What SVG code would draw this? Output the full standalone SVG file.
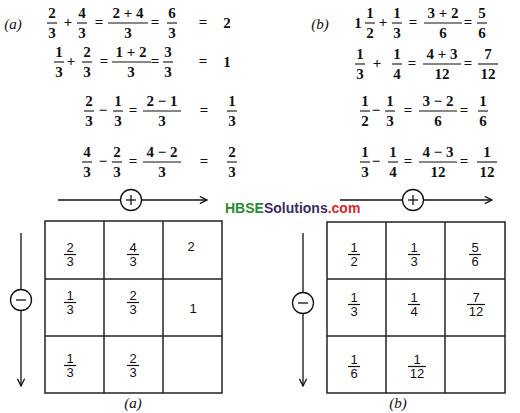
<svg xmlns="http://www.w3.org/2000/svg" width="520" height="413" viewBox="0 0 520 413">
<defs>
<marker id="ah" viewBox="0 0 10 10" refX="9" refY="5" markerWidth="9" markerHeight="9" markerUnits="userSpaceOnUse" orient="auto">
<path d="M1,1 L9,5 L1,9" fill="none" stroke="#111" stroke-width="1.4"/>
</marker>
<style>
.eq{font-size:15px;font-weight:bold;text-anchor:middle;fill:#111}
.lab{font-size:15px;font-style:italic;text-anchor:middle;fill:#111}
.cell{font-size:13px;text-anchor:middle;fill:#111}
.bar{stroke:#111;stroke-width:1.1}
.cbar{stroke:#111;stroke-width:1.2}
.grid{fill:none;stroke:#222;stroke-width:1.5}
.arr{stroke:#111;stroke-width:1.3;fill:none}
.circ{fill:#fff;stroke:#111;stroke-width:1.3}
.wm{font-size:14px;font-weight:bold}
</style>
</defs>
<rect width="520" height="413" fill="#fff"/>

<g font-family="'Liberation Serif', 'Times New Roman', serif">
<!-- Equations (a) -->
<g id="eq-a">
<text class="lab" x="13" y="29">(a)</text>
<g id="eq-a1">
<text class="eq" x="52" y="18">2</text><line class="bar" x1="47" y1="23" x2="57" y2="23"/><text class="eq" x="52" y="38">3</text>
<text class="eq" x="68" y="27">+</text>
<text class="eq" x="82" y="18">4</text><line class="bar" x1="77" y1="23" x2="87" y2="23"/><text class="eq" x="82" y="38">3</text>
<text class="eq" x="99" y="27">=</text>
<text class="eq" x="128" y="18">2 + 4</text><line class="bar" x1="108" y1="23" x2="148" y2="23"/><text class="eq" x="128" y="38">3</text>
<text class="eq" x="155" y="27">=</text>
<text class="eq" x="172" y="18">6</text><line class="bar" x1="167" y1="23" x2="177" y2="23"/><text class="eq" x="172" y="38">3</text>
<text class="eq" x="203" y="27">=</text>
<text class="eq" x="227" y="28">2</text>
</g>
<g id="eq-a2">
<text class="eq" x="59" y="57">1</text><line class="bar" x1="54" y1="62" x2="64" y2="62"/><text class="eq" x="59" y="77">3</text>
<text class="eq" x="71" y="66">+</text>
<text class="eq" x="87" y="57">2</text><line class="bar" x1="82" y1="62" x2="92" y2="62"/><text class="eq" x="87" y="77">3</text>
<text class="eq" x="104" y="66">=</text>
<text class="eq" x="131" y="57">1 + 2</text><line class="bar" x1="112" y1="62" x2="151" y2="62"/><text class="eq" x="131" y="77">3</text>
<text class="eq" x="155" y="66">=</text>
<text class="eq" x="168" y="57">3</text><line class="bar" x1="163" y1="62" x2="173" y2="62"/><text class="eq" x="168" y="77">3</text>
<text class="eq" x="203" y="66">=</text>
<text class="eq" x="227" y="67">1</text>
</g>
<g id="eq-a3">
<text class="eq" x="89" y="106">2</text><line class="bar" x1="84" y1="111" x2="94" y2="111"/><text class="eq" x="89" y="126">3</text>
<text class="eq" x="103" y="115">−</text>
<text class="eq" x="118" y="106">1</text><line class="bar" x1="113" y1="111" x2="123" y2="111"/><text class="eq" x="118" y="126">3</text>
<text class="eq" x="133" y="115">=</text>
<text class="eq" x="162" y="106">2 − 1</text><line class="bar" x1="143" y1="111" x2="181" y2="111"/><text class="eq" x="162" y="126">3</text>
<text class="eq" x="204" y="115">=</text>
<text class="eq" x="232" y="106">1</text><line class="bar" x1="227" y1="111" x2="237" y2="111"/><text class="eq" x="232" y="126">3</text>
</g>
<g id="eq-a4">
<text class="eq" x="87" y="157">4</text><line class="bar" x1="82" y1="162" x2="92" y2="162"/><text class="eq" x="87" y="177">3</text>
<text class="eq" x="103" y="166">−</text>
<text class="eq" x="117" y="157">2</text><line class="bar" x1="112" y1="162" x2="122" y2="162"/><text class="eq" x="117" y="177">3</text>
<text class="eq" x="133" y="166">=</text>
<text class="eq" x="162" y="157">4 − 2</text><line class="bar" x1="143" y1="162" x2="181" y2="162"/><text class="eq" x="162" y="177">3</text>
<text class="eq" x="204" y="166">=</text>
<text class="eq" x="232" y="157">2</text><line class="bar" x1="227" y1="162" x2="237" y2="162"/><text class="eq" x="232" y="177">3</text>
</g>
</g>

<!-- Equations (b) -->
<g id="eq-b">
<text class="lab" x="320" y="29">(b)</text>
<g id="eq-b1">
<text class="eq" x="358" y="28">1</text>
<text class="eq" x="370" y="18">1</text><line class="bar" x1="365" y1="23" x2="375" y2="23"/><text class="eq" x="370" y="38">2</text>
<text class="eq" x="383" y="27">+</text>
<text class="eq" x="397" y="18">1</text><line class="bar" x1="392" y1="23" x2="402" y2="23"/><text class="eq" x="397" y="38">3</text>
<text class="eq" x="413" y="27">=</text>
<text class="eq" x="443" y="18">3 + 2</text><line class="bar" x1="424" y1="23" x2="462" y2="23"/><text class="eq" x="443" y="38">6</text>
<text class="eq" x="468" y="27">=</text>
<text class="eq" x="482" y="18">5</text><line class="bar" x1="477" y1="23" x2="487" y2="23"/><text class="eq" x="482" y="38">6</text>
</g>
<g id="eq-b2">
<text class="eq" x="360" y="59">1</text><line class="bar" x1="355" y1="64" x2="365" y2="64"/><text class="eq" x="360" y="79">3</text>
<text class="eq" x="377" y="68">+</text>
<text class="eq" x="397" y="59">1</text><line class="bar" x1="392" y1="64" x2="402" y2="64"/><text class="eq" x="397" y="79">4</text>
<text class="eq" x="412" y="68">=</text>
<text class="eq" x="442" y="59">4 + 3</text><line class="bar" x1="423" y1="64" x2="461" y2="64"/><text class="eq" x="442" y="79">12</text>
<text class="eq" x="468" y="68">=</text>
<text class="eq" x="488" y="59">7</text><line class="bar" x1="478" y1="64" x2="498" y2="64"/><text class="eq" x="488" y="79">12</text>
</g>
<g id="eq-b3">
<text class="eq" x="365" y="106">1</text><line class="bar" x1="360" y1="111" x2="370" y2="111"/><text class="eq" x="365" y="126">2</text>
<text class="eq" x="376" y="115">−</text>
<text class="eq" x="390" y="106">1</text><line class="bar" x1="385" y1="111" x2="395" y2="111"/><text class="eq" x="390" y="126">3</text>
<text class="eq" x="408" y="115">=</text>
<text class="eq" x="438" y="106">3 − 2</text><line class="bar" x1="419" y1="111" x2="457" y2="111"/><text class="eq" x="438" y="126">6</text>
<text class="eq" x="464" y="115">=</text>
<text class="eq" x="483" y="106">1</text><line class="bar" x1="478" y1="111" x2="488" y2="111"/><text class="eq" x="483" y="126">6</text>
</g>
<g id="eq-b4">
<text class="eq" x="365" y="157">1</text><line class="bar" x1="360" y1="162" x2="370" y2="162"/><text class="eq" x="365" y="177">3</text>
<text class="eq" x="376" y="166">−</text>
<text class="eq" x="393" y="157">1</text><line class="bar" x1="388" y1="162" x2="398" y2="162"/><text class="eq" x="393" y="177">4</text>
<text class="eq" x="408" y="166">=</text>
<text class="eq" x="438" y="157">4 − 3</text><line class="bar" x1="419" y1="162" x2="457" y2="162"/><text class="eq" x="438" y="177">12</text>
<text class="eq" x="464" y="166">=</text>
<text class="eq" x="487" y="157">1</text><line class="bar" x1="477" y1="162" x2="497" y2="162"/><text class="eq" x="487" y="177">12</text>
</g>
</g>
<text class="lab" x="133" y="408">(a)</text>
<text class="lab" x="398" y="408">(b)</text>
</g>

<!-- Connectors / arrows -->
<g id="connectors">
<line class="arr" x1="58" y1="200" x2="207" y2="200" marker-end="url(#ah)"/>
<line class="arr" x1="340" y1="200" x2="492" y2="200" marker-end="url(#ah)"/>
<line class="arr" x1="21" y1="233" x2="21" y2="386" marker-end="url(#ah)"/>
<line class="arr" x1="303" y1="233" x2="303" y2="386" marker-end="url(#ah)"/>
</g>

<g id="plus-a">
<circle class="circ" cx="131" cy="200" r="10.5"/>
<line class="arr" x1="126" y1="200" x2="136" y2="200"/><line class="arr" x1="131" y1="195" x2="131" y2="205"/>
</g>
<g id="plus-b">
<circle class="circ" cx="413" cy="200" r="10.5"/>
<line class="arr" x1="408" y1="200" x2="418" y2="200"/><line class="arr" x1="413" y1="195" x2="413" y2="205"/>
</g>
<g id="minus-a">
<circle class="circ" cx="21" cy="300" r="10.5"/>
<line class="arr" x1="16" y1="300" x2="26" y2="300"/>
</g>
<g id="minus-b">
<circle class="circ" cx="303" cy="303" r="10.5"/>
<line class="arr" x1="298" y1="303" x2="308" y2="303"/>
</g>

<g font-family="'Liberation Sans', Arial, sans-serif">
<!-- Watermark -->
<text class="wm" x="225" y="213"><tspan fill="#2a8a34">HBSE</tspan><tspan fill="#3a2b5e">Solutions</tspan><tspan fill="#d8262b">.com</tspan></text>

<!-- Grid (a) -->
<g id="grid-a">
<rect class="grid" x="45" y="221" width="177" height="172"/>
<line class="grid" x1="104" y1="221" x2="104" y2="393"/>
<line class="grid" x1="163" y1="221" x2="163" y2="393"/>
<line class="grid" x1="45" y1="279" x2="222" y2="279"/>
<line class="grid" x1="45" y1="336" x2="222" y2="336"/>
<g id="a11"><text class="cell" x="70" y="252">2</text><line class="cbar" x1="64" y1="254.5" x2="76" y2="254.5"/><text class="cell" x="70" y="266">3</text></g>
<g id="a12"><text class="cell" x="133" y="252">4</text><line class="cbar" x1="127" y1="254.5" x2="139" y2="254.5"/><text class="cell" x="133" y="266">3</text></g>
<g id="a13"><text class="cell" x="191" y="251">2</text></g>
<g id="a21"><text class="cell" x="70" y="300">1</text><line class="cbar" x1="64" y1="302.5" x2="76" y2="302.5"/><text class="cell" x="70" y="314">3</text></g>
<g id="a22"><text class="cell" x="133" y="300">2</text><line class="cbar" x1="127" y1="302.5" x2="139" y2="302.5"/><text class="cell" x="133" y="314">3</text></g>
<g id="a23"><text class="cell" x="193" y="313">1</text></g>
<g id="a31"><text class="cell" x="70" y="363">1</text><line class="cbar" x1="64" y1="365.5" x2="76" y2="365.5"/><text class="cell" x="70" y="377">3</text></g>
<g id="a32"><text class="cell" x="133" y="363">2</text><line class="cbar" x1="127" y1="365.5" x2="139" y2="365.5"/><text class="cell" x="133" y="377">3</text></g>
</g>

<!-- Grid (b) -->
<g id="grid-b">
<rect class="grid" x="327" y="222" width="178" height="171"/>
<line class="grid" x1="386" y1="222" x2="386" y2="393"/>
<line class="grid" x1="445" y1="222" x2="445" y2="393"/>
<line class="grid" x1="327" y1="279" x2="505" y2="279"/>
<line class="grid" x1="327" y1="336" x2="505" y2="336"/>
<g id="b11"><text class="cell" x="354" y="252">1</text><line class="cbar" x1="348" y1="254.5" x2="360" y2="254.5"/><text class="cell" x="354" y="266">2</text></g>
<g id="b12"><text class="cell" x="414" y="252">1</text><line class="cbar" x1="408" y1="254.5" x2="420" y2="254.5"/><text class="cell" x="414" y="266">3</text></g>
<g id="b13"><text class="cell" x="475" y="252">5</text><line class="cbar" x1="469" y1="254.5" x2="481" y2="254.5"/><text class="cell" x="475" y="266">6</text></g>
<g id="b21"><text class="cell" x="354" y="302">1</text><line class="cbar" x1="348" y1="304.5" x2="360" y2="304.5"/><text class="cell" x="354" y="316">3</text></g>
<g id="b22"><text class="cell" x="414" y="302">1</text><line class="cbar" x1="408" y1="304.5" x2="420" y2="304.5"/><text class="cell" x="414" y="316">4</text></g>
<g id="b23"><text class="cell" x="476" y="302">7</text><line class="cbar" x1="467" y1="304.5" x2="485" y2="304.5"/><text class="cell" x="476" y="316">12</text></g>
<g id="b31"><text class="cell" x="354" y="364">1</text><line class="cbar" x1="348" y1="366.5" x2="360" y2="366.5"/><text class="cell" x="354" y="378">6</text></g>
<g id="b32"><text class="cell" x="417" y="364">1</text><line class="cbar" x1="408" y1="366.5" x2="426" y2="366.5"/><text class="cell" x="417" y="378">12</text></g>
</g>
</g>
</svg>
